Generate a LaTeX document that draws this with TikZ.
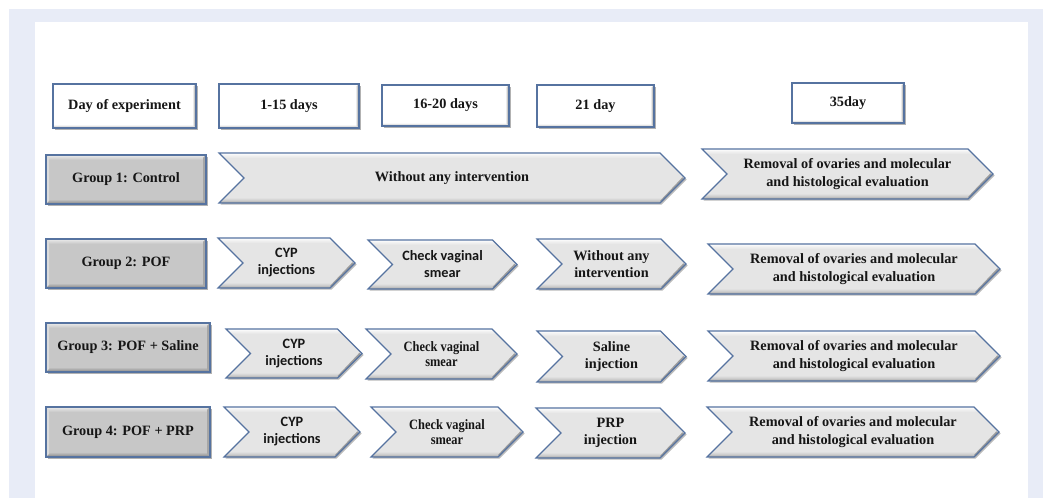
\documentclass[tikz,border=0pt]{standalone}
\usepackage{fontspec}
\setmainfont{Liberation Serif}
\newfontfamily\calib{Carlito}
\newfontfamily\condserif[FakeStretch=0.87]{Liberation Serif}
\usetikzlibrary{shadows}
\definecolor{bord}{HTML}{5673A0}
\definecolor{bgblue}{HTML}{E8ECF7}
\definecolor{txtc}{HTML}{161616}
\definecolor{ga}{HTML}{EDEDED}
\definecolor{gb}{HTML}{DCDCDC}
\definecolor{gc}{HTML}{C7C7C7}
\definecolor{gd}{HTML}{A6A6A6}
\definecolor{ge}{HTML}{7E7E7E}
\definecolor{ca}{HTML}{FFFFFF}
\definecolor{cb}{HTML}{F3F3F3}
\definecolor{cc}{HTML}{E5E5E5}
\definecolor{cd}{HTML}{C9C9C9}
\definecolor{ce}{HTML}{9C9C9C}
\pgfdeclareverticalshading{gboxshade}{100bp}{color(0bp)=(ge); color(25bp)=(ge); color(27.5bp)=(gd); color(30bp)=(gc); color(70bp)=(gc); color(73bp)=(gb); color(75bp)=(ga); color(100bp)=(ga)}
\pgfdeclareverticalshading{chevshade}{100bp}{color(0bp)=(ce); color(25bp)=(ce); color(27.5bp)=(cd); color(30.5bp)=(cc); color(70bp)=(cc); color(73bp)=(cb); color(75bp)=(ca); color(100bp)=(ca)}
\pgfdeclareverticalshading{hboxshade}{100bp}{color(0bp)=(gd); color(25bp)=(gd); color(27bp)=(gb); color(29bp)=(white); color(100bp)=(white)}
\newcommand{\Fser}{\fontsize{10.7pt}{13pt}\selectfont\bfseries}
\newcommand{\Fsans}{\calib\fontsize{10.7pt}{12.75pt}\selectfont\bfseries}
\newcommand{\Fcond}{\condserif\fontsize{10.7pt}{11.25pt}\selectfont\bfseries}
\newcommand{\HeadBox}[6]{%
  \path[headbox] (#2,#3) rectangle (#4,#5);
  \fill[gc] (#4,#3) -- ({#4-2.5},{#3+2.5}) -- ({#4-2.5},{#5-2.5}) -- (#4,#5) -- cycle;
  \draw[bord, line width=0.9pt] (#2,#3) rectangle (#4,#5);
  \node[txt, font=\Fser] (#1) at ({(#2+#4)/2},{(#3+#5)/2}) {#6};
}
\newcommand{\GroupBox}[6]{%
  \path[groupbox] (#2,#3) rectangle (#4,#5);
  \fill[gb] (#2,#3) -- ({#2+3},{#3+3}) -- ({#2+3},{#5-3}) -- (#2,#5) -- cycle;
  \fill[gd] (#4,#3) -- ({#4-3},{#3+3}) -- ({#4-3},{#5-3}) -- (#4,#5) -- cycle;
  \draw[bord, line width=0.9pt] (#2,#3) rectangle (#4,#5);
  \node[txt, font=\Fser] (#1) at ({(#2+#4)/2},{(#3+#5)/2}) {#6};
}
\newcommand{\Chev}[7]{%
  \pgfmathsetmacro{\chd}{(#5-#3)/2}
  \pgfmathsetmacro{\chm}{(#5+#3)/2}
  \path[chev] (#2,#3) -- ({#4-\chd},#3) -- (#4,\chm) -- ({#4-\chd},#5) -- (#2,#5) -- ({#2+\chd},\chm) -- cycle;
  \draw[ce, line width=1.6pt] ({#4-\chd+1},{#5-1.6}) -- ({#4-1.8},\chm);
  \draw[bord, line width=0.9pt] (#2,#3) -- ({#4-\chd},#3) -- (#4,\chm) -- ({#4-\chd},#5) -- (#2,#5) -- ({#2+\chd},\chm) -- cycle;
  \node[txt, font=#6] (#1) at ({(#2+#4)/2},\chm) {#7};
}
\begin{document}
\begin{tikzpicture}[x=0.75pt,y=-0.75pt,
  txt/.style={align=center, text=txtc, inner sep=0pt},
  headbox/.style={fill=white, shade, shading=hboxshade, drop shadow={shadow xshift=1.2pt, shadow yshift=-1.2pt, fill=black!60, opacity=0.5}},
  groupbox/.style={shade, shading=gboxshade, drop shadow={shadow xshift=1.2pt, shadow yshift=-1.2pt, fill=black!60, opacity=0.5}},
  chev/.style={shade, shading=chevshade, drop shadow={shadow xshift=1.2pt, shadow yshift=-1.2pt, fill=black!60, opacity=0.45}}]
\useasboundingbox (0,0) rectangle (1043,498);
\fill[white] (0,0) rectangle (1043,498);
\fill[bgblue] (9,9) rectangle (1043,498);
\fill[white] (35,22) rectangle (1028,498);

% header row
\HeadBox{hday}{53}{84}{196}{128}{Day of experiment}
\HeadBox{hA}{219}{84}{359}{128}{1-15 days}
\HeadBox{hB}{382}{85}{509}{126}{16-20 days}
\HeadBox{hC}{537}{85}{654}{127}{21 day}
\HeadBox{hD}{792}{83}{904}{123}{35day}

% groups
\GroupBox{gA}{46}{155}{206}{204}{Group 1: Control}
\GroupBox{gB}{46}{239}{206}{288}{Group 2: POF}
\GroupBox{gC}{46}{323}{210}{372}{Group 3: POF + Saline}
\GroupBox{gD}{46}{407}{210}{457}{Group 4: POF + PRP}

% row 1
\Chev{rAa}{219}{153}{685}{203}{\Fser}{Without any intervention}
\Chev{rAb}{702}{149}{993}{199}{\Fser}{Removal of ovaries and molecular\\and histological evaluation}

% row 2
\Chev{rBa}{218}{238}{355}{288}{\Fsans}{CYP\\injections}
\Chev{rBb}{368}{240}{517}{289}{\Fsans}{Check vaginal\\smear}
\Chev{rBc}{537}{239}{686}{289}{\Fser}{Without any\\intervention}
\Chev{rBd}{708}{244}{1000}{294}{\Fser}{Removal of ovaries and molecular\\and histological evaluation}

% row 3
\Chev{rCa}{226}{329}{362}{378}{\Fsans}{CYP\\injections}
\Chev{rCb}{366}{329}{517}{379}{\Fcond}{Check vaginal\\smear}
\Chev{rCc}{537}{331}{686}{382}{\Fser}{Saline\\injection}
\Chev{rCd}{708}{331}{1000}{381}{\Fser}{Removal of ovaries and molecular\\and histological evaluation}

% row 4
\Chev{rDa}{224}{407}{360}{457}{\Fsans}{CYP\\injections}
\Chev{rDb}{371}{407}{523}{457}{\Fcond}{Check vaginal\\smear}
\Chev{rDc}{536}{408}{685}{458}{\Fser}{PRP\\injection}
\Chev{rDd}{707}{407}{999}{457}{\Fser}{Removal of ovaries and molecular\\and histological evaluation}
\end{tikzpicture}
\end{document}
